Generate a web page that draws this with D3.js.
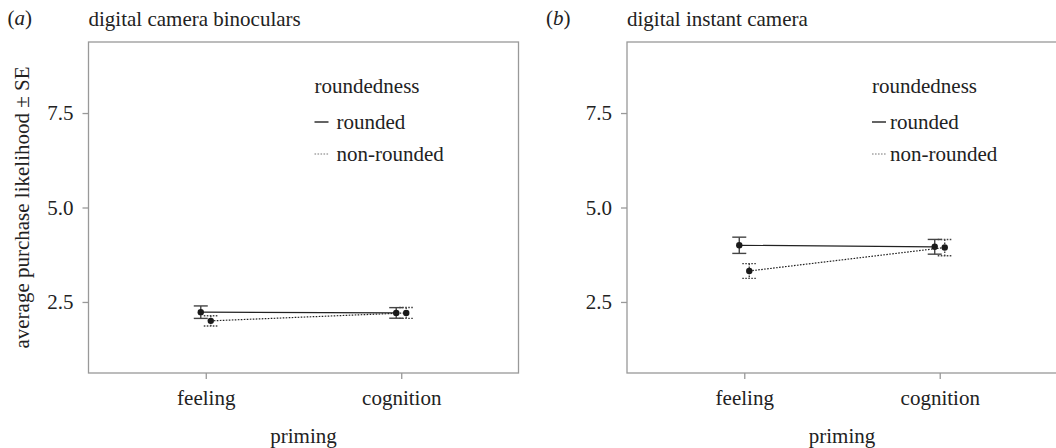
<!DOCTYPE html>
<html>
<head>
<meta charset="utf-8">
<script src="https://cdn.jsdelivr.net/npm/d3@7/dist/d3.min.js"></script>
<style>
  body { margin: 0; background: #fff; }
  svg text { font-family: "Liberation Serif", "Times New Roman", serif; fill: #222; }
</style>
</head>
<body>
<svg class="chart" width="1056" height="448"></svg>
<script>
// data
var categories = ["feeling", "cognition"];
var groups = ["rounded", "non-rounded"];
var yTicks = [2.5, 5.0, 7.5];
var panelTags = ["a", "b"];
var panelTitles = ["digital camera binoculars", "digital instant camera"];

var meanA_rounded = [2.23, 2.21], seA_rounded = [0.165, 0.14];
var meanA_nonrounded = [2.00, 2.21], seA_nonrounded = [0.135, 0.145];
var meanB_rounded = [4.00, 3.96], seB_rounded = [0.215, 0.195];
var meanB_nonrounded = [3.32, 3.94], seB_nonrounded = [0.195, 0.215];

var panels = [
  { tag: panelTags[0], title: panelTitles[0], left: 88.5, legX: 226, legGap: 22,
    series: [[meanA_rounded, seA_rounded], [meanA_nonrounded, seA_nonrounded]] },
  { tag: panelTags[1], title: panelTitles[1], left: 627, legX: 245, legGap: 18,
    series: [[meanB_rounded, seB_rounded], [meanB_nonrounded, seB_nonrounded]] }
];

var plotTop = 42, plotBottom = 373, boxW = 430;
var chart = d3.select("svg.chart");

var yScale = d3.scaleLinear().domain([0.62, 9.38]).range([plotBottom, plotTop]);
var xScale = d3.scalePoint().domain(categories).range([0, boxW]).padding(0.6);
var dodge = d3.scalePoint().domain(groups).range([-5, 5]);
var dash = { "rounded": null, "non-rounded": "1.6,1.4" };

panels.forEach(function (p) {
  var g = chart.append("g").attr("transform", "translate(" + p.left + ",0)");

  // panel tag + title
  var tag = chart.append("text").attr("x", p.left - 81).attr("y", 25).style("font-size", "21px");
  tag.append("tspan").text("(");
  tag.append("tspan").style("font-style", "italic").text(p.tag);
  tag.append("tspan").text(")");
  g.append("text").attr("x", 0).attr("y", 26).style("font-size", "21px").text(p.title);

  // box
  g.append("rect").attr("x", 0).attr("y", plotTop).attr("width", boxW).attr("height", plotBottom - plotTop)
    .attr("fill", "none").attr("stroke", "#999").attr("stroke-width", 1.3);

  var yAxis = d3.axisLeft(yScale).tickValues(yTicks).tickSize(6).tickPadding(9).tickFormat(d3.format(".1f"));
  var yG = g.append("g").call(yAxis);
  var xAxis = d3.axisBottom(xScale).tickSize(6).tickPadding(11);
  var xG = g.append("g").attr("transform", "translate(0," + plotBottom + ")").call(xAxis);
  [yG, xG].forEach(function (ax) {
    ax.attr("font-family", null).attr("font-size", null);
    ax.select(".domain").remove();
    ax.selectAll(".tick line").attr("stroke", "#999").attr("stroke-width", 1.3);
    ax.selectAll(".tick text").style("font-size", "21px").attr("fill", "#222");
  });

  g.append("text").attr("x", boxW / 2).attr("y", 443).attr("text-anchor", "middle")
    .style("font-size", "21px").text("priming");

  // series
  p.series.forEach(function (s, k) {
    var grp = groups[k];
    var pts = categories.map(function (c, i) {
      return { x: xScale(c) + dodge(grp), m: s[0][i], se: s[1][i] };
    });
    var line = d3.line().x(function (d) { return d.x; }).y(function (d) { return yScale(d.m); });
    g.append("path").attr("d", line(pts)).attr("fill", "none").attr("stroke", "#222")
      .attr("stroke-width", 1.2).attr("stroke-dasharray", dash[grp]);

    var eb = g.selectAll(null).data(pts).enter().append("g").attr("class", "eb");
    eb.append("line").attr("x1", function (d) { return d.x; }).attr("x2", function (d) { return d.x; })
      .attr("y1", function (d) { return yScale(d.m + d.se); }).attr("y2", function (d) { return yScale(d.m - d.se); });
    eb.append("line").attr("x1", function (d) { return d.x - 7; }).attr("x2", function (d) { return d.x + 7; })
      .attr("y1", function (d) { return yScale(d.m + d.se); }).attr("y2", function (d) { return yScale(d.m + d.se); });
    eb.append("line").attr("x1", function (d) { return d.x - 7; }).attr("x2", function (d) { return d.x + 7; })
      .attr("y1", function (d) { return yScale(d.m - d.se); }).attr("y2", function (d) { return yScale(d.m - d.se); });
    eb.selectAll("line").attr("stroke", "#444").attr("stroke-width", 1.4).attr("stroke-dasharray", dash[grp]);

    g.selectAll(null).data(pts).enter().append("circle")
      .attr("cx", function (d) { return d.x; }).attr("cy", function (d) { return yScale(d.m); })
      .attr("r", 3.2).attr("fill", "#1a1a1a");
  });

  // legend
  g.append("text").attr("x", p.legX).attr("y", 93).style("font-size", "21px").text("roundedness");
  groups.forEach(function (grp, k) {
    var ly = 122 + k * 32;
    g.append("line").attr("x1", p.legX).attr("x2", p.legX + 14).attr("y1", ly).attr("y2", ly)
      .attr("stroke", k ? "#777" : "#222").attr("stroke-width", k ? 1 : 1.4).attr("stroke-dasharray", dash[grp]);
    g.append("text").attr("x", p.legX + p.legGap).attr("y", ly + 6.5).style("font-size", "21px").text(grp);
  });
});

// shared y title
chart.append("text").attr("transform", "translate(29," + ((plotTop + plotBottom) / 2) + ") rotate(-90)")
  .attr("text-anchor", "middle").style("font-size", "21px").text("average purchase likelihood \u00b1 SE");
</script>
</body>
</html>
